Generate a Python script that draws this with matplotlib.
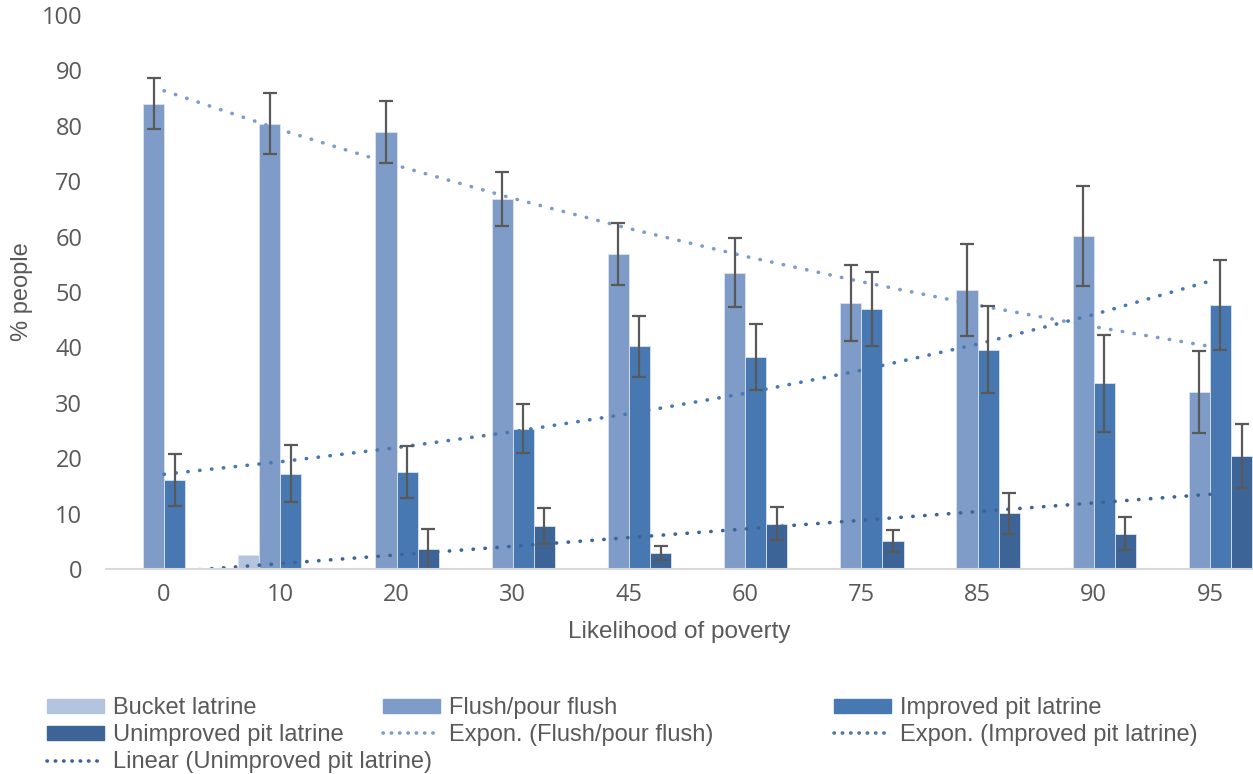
import numpy as np
import matplotlib.pyplot as plt
from matplotlib.patches import Patch
from matplotlib.lines import Line2D

# likelihood of poverty groups
categories = ['0', '10', '20', '30', '45', '60', '75', '85', '90', '95']

# % people per sanitation type
bucket = [0, 2.5, 0, 0, 0, 0, 0, 0, 0, 0]
flush = [84.0, 80.4, 78.8, 66.8, 56.9, 53.5, 48.0, 50.3, 60.1, 32.0]
improved = [16.0, 17.2, 17.5, 25.3, 40.2, 38.3, 46.9, 39.6, 33.5, 47.6]
unimproved = [0, 0, 3.6, 7.8, 2.9, 8.2, 5.1, 10.1, 6.4, 20.4]

# error bar half-widths
flush_err = [4.6, 5.5, 5.6, 4.9, 5.6, 6.2, 6.9, 8.3, 9.0, 7.4]
improved_err = [4.7, 5.1, 4.7, 4.4, 5.5, 6.0, 6.7, 7.8, 8.7, 8.1]
unimproved_err = [0, 0, 3.6, 3.3, 1.3, 3.0, 2.0, 3.7, 2.9, 5.8]

c_bucket = '#b4c4df'
c_flush = '#7f9cc8'
c_improved = '#4878b1'
c_unimproved = '#3c6497'
c_text = '#595959'

plt.rcParams['font.family'] = ['Liberation Sans', 'DejaVu Sans']

fig = plt.figure(figsize=(12.53, 7.74), dpi=100)
ax = fig.add_axes([106 / 1253, 1 - 569 / 774, 1 - 106 / 1253, (569 - 15) / 774])

x = np.arange(len(categories))
w = 0.182
series = [
    (bucket, None, c_bucket, -1.5),
    (flush, flush_err, c_flush, -0.5),
    (improved, improved_err, c_improved, 0.5),
    (unimproved, unimproved_err, c_unimproved, 1.5),
]
for vals, errs, col, off in series:
    ax.bar(x + off * w, vals, w, color=col, edgecolor='#dbe3f0', linewidth=0.6, zorder=2)

# trendlines, Excel-style on x = 1..n
dots = (0, (0.1, 3.2))
xi = x + 1.0
b, a = np.polyfit(xi, np.log(flush), 1)
ax.plot(x, np.exp(a + b * xi), color=c_flush, lw=2.6, ls=dots,
        dash_capstyle='round', zorder=3)
b, a = np.polyfit(xi, np.log(improved), 1)
ax.plot(x, np.exp(a + b * xi), color=c_improved, lw=2.6, ls=dots,
        dash_capstyle='round', zorder=3)
m, c0 = np.polyfit(xi, unimproved, 1)
ax.plot(x, m * xi + c0, color=c_unimproved, lw=2.6, ls=dots,
        dash_capstyle='round', zorder=3)

# error bars
for vals, errs, col, off in series:
    if errs is None:
        continue
    v = np.array(vals)
    e = np.array(errs)
    keep = e > 0
    ax.errorbar(x[keep] + off * w, v[keep], yerr=e[keep], fmt='none',
                ecolor=c_text, elinewidth=1.6, capsize=5, capthick=1.6, zorder=4)

ax.set_xlim(-0.5, (1253 - 106) / 116.2 - 0.5)
ax.set_ylim(0, 100)
ax.set_yticks(np.arange(0, 101, 10))
ax.set_xticks(x)
ax.set_xticklabels(categories)
ax.tick_params(axis='both', length=0, labelsize=17, colors=c_text)
for t in ax.get_xticklabels() + ax.get_yticklabels():
    t.set_family(['Open Sans', 'DejaVu Sans'])
ax.tick_params(axis='x', pad=10)
ax.tick_params(axis='y', pad=17)
for s in ['top', 'right', 'left']:
    ax.spines[s].set_visible(False)
ax.spines['bottom'].set_color('#d9d9d9')
ax.spines['bottom'].set_linewidth(1.5)
ax.spines['bottom'].set_zorder(5)

ax.set_xlabel('Likelihood of poverty', fontsize=17.5, color=c_text, labelpad=10)
ax.set_ylabel('% people', fontsize=17, color=c_text, labelpad=6)

def dot_line(col):
    return Line2D([], [], color=col, lw=2.6, ls=(0, (0.1, 2.2)), dash_capstyle='round')

cols = [
    [(Patch(color=c_bucket), 'Bucket latrine'),
     (Patch(color=c_unimproved), 'Unimproved pit latrine'),
     (dot_line(c_unimproved), 'Linear (Unimproved pit latrine)')],
    [(Patch(color=c_flush), 'Flush/pour flush'),
     (dot_line(c_flush), 'Expon. (Flush/pour flush)')],
    [(Patch(color=c_improved), 'Improved pit latrine'),
     (dot_line(c_improved), 'Expon. (Improved pit latrine)')],
]
col_x = [47, 383, 834]
for items, px in zip(cols, col_x):
    leg = fig.legend([h for h, _ in items], [t for _, t in items],
                     loc='upper left', bbox_to_anchor=(px / 1253, 1 - 697 / 774),
                     frameon=False, borderpad=0, borderaxespad=0,
                     handlelength=2.4, handleheight=0.55, handletextpad=0.4,
                     labelspacing=0.22, prop={'size': 17})
    for t in leg.get_texts():
        t.set_color(c_text)

fig.savefig('out.png', dpi=100)
